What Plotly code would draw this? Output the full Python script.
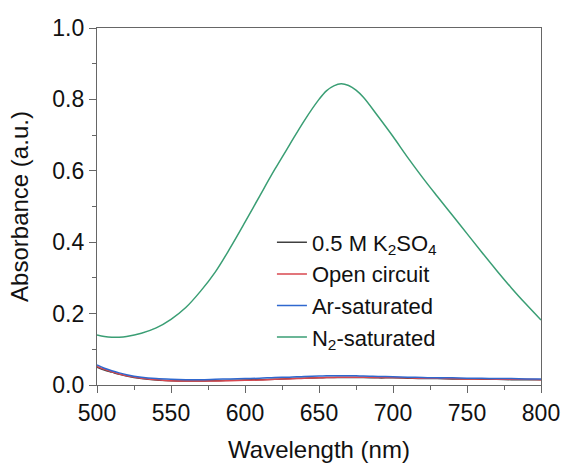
import plotly.graph_objects as go

# Wavelength grid (nm)
wl = [500, 505, 510, 515, 520, 530, 540, 550, 560, 570, 580, 590, 600, 610, 620,
      630, 640, 650, 655, 660, 665, 670, 675, 680, 690, 700, 710, 720, 730, 740, 750,
      760, 770, 780, 790, 800]

n2_sat = [0.140, 0.136, 0.134, 0.134, 0.136, 0.145, 0.160, 0.184, 0.217, 0.263, 0.317,
          0.384, 0.456, 0.530, 0.603, 0.672, 0.740, 0.800, 0.824, 0.838, 0.844, 0.839,
          0.826, 0.806, 0.752, 0.696, 0.637, 0.581, 0.528, 0.476, 0.424,
          0.372, 0.321, 0.272, 0.226, 0.182]

ar_sat = [0.056, 0.047, 0.040, 0.034, 0.029, 0.022, 0.018, 0.016, 0.015, 0.015,
          0.016, 0.017, 0.018, 0.019, 0.021, 0.022, 0.024, 0.025, 0.026, 0.026, 0.026,
          0.026, 0.026, 0.025, 0.024, 0.023, 0.022, 0.021, 0.020, 0.020, 0.019,
          0.019, 0.018, 0.018, 0.017, 0.017]

open_circ = [0.052, 0.044, 0.037, 0.031, 0.026, 0.019, 0.015, 0.012, 0.011, 0.011,
             0.011, 0.012, 0.013, 0.014, 0.016, 0.017, 0.019, 0.020, 0.021, 0.021, 0.022,
             0.022, 0.022, 0.022, 0.021, 0.021, 0.020, 0.019, 0.019, 0.018, 0.017,
             0.017, 0.016, 0.016, 0.016, 0.015]

k2so4 = [0.050, 0.042, 0.036, 0.030, 0.025, 0.018, 0.014, 0.012, 0.011, 0.011,
         0.012, 0.013, 0.014, 0.015, 0.016, 0.018, 0.019, 0.020, 0.021, 0.021, 0.021,
         0.021, 0.021, 0.021, 0.020, 0.020, 0.019, 0.018, 0.018, 0.017, 0.017,
         0.016, 0.016, 0.015, 0.015, 0.015]

names = ["0.5 M K<sub>2</sub>SO<sub>4</sub>", "Open circuit", "Ar-saturated",
         "N<sub>2</sub>-saturated"]
colors = ["#404040", "#d9474f", "#2f68cf", "#3a9e74"]
series = [k2so4, open_circ, ar_sat, n2_sat]

x_ticks = [500, 550, 600, 650, 700, 750, 800]
y_ticks = [0.0, 0.2, 0.4, 0.6, 0.8, 1.0]

fig = go.Figure()
for nm, col, ys in zip(names, colors, series):
    fig.add_trace(go.Scatter(x=wl, y=ys, mode="lines", name=nm,
                             line=dict(color=col, width=1.5, shape="spline")))

FONT = "Liberation Sans, Arial, sans-serif"
axis_common = dict(showline=True, linecolor="#666666", linewidth=1.2, mirror=True,
                   ticks="outside", ticklen=7, tickwidth=1, tickcolor="#666666",
                   showgrid=False, zeroline=False, automargin=False,
                   tickfont=dict(family=FONT, size=23, color="#111111"))

fig.update_layout(
    width=561, height=463,
    margin=dict(l=97, r=20, t=28, b=78),
    paper_bgcolor="white", plot_bgcolor="white",
    font=dict(family=FONT, size=22, color="#111111"),
    showlegend=True,
    legend=dict(x=0.394, y=0.458, xanchor="left", yanchor="top",
                bgcolor="rgba(0,0,0,0)", font=dict(family=FONT, size=22),
                tracegroupgap=0),
    xaxis=dict(range=[500, 800], tickvals=x_ticks, ticktext=[str(v) for v in x_ticks],
               minor=dict(dtick=25, ticks="outside", ticklen=4, tickcolor="#666666"),
               title=dict(text="Wavelength (nm)", standoff=24,
                          font=dict(family=FONT, size=24)),
               **axis_common),
    yaxis=dict(range=[0, 1.0], tickvals=y_ticks, ticktext=[f"{v:.1f}" for v in y_ticks],
               minor=dict(dtick=0.1, ticks="outside", ticklen=4, tickcolor="#666666"),
               title=dict(text="Absorbance (a.u.)", standoff=16,
                          font=dict(family=FONT, size=24)),
               **axis_common),
)

fig.write_html("out.html")
